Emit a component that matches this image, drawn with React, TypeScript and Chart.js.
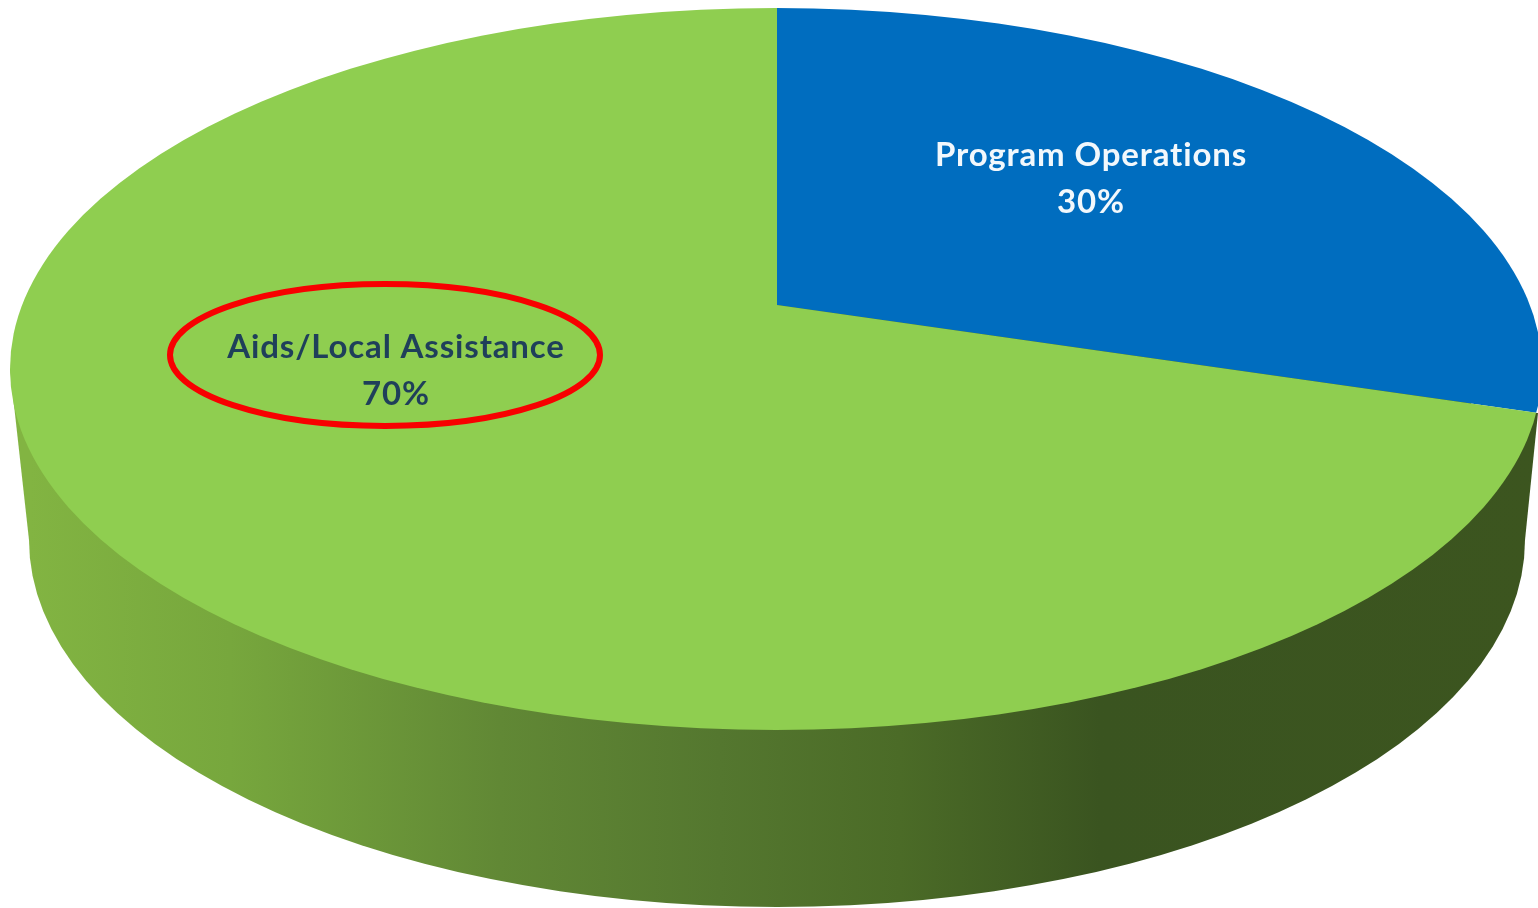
import React, { useEffect, useRef } from "react";
import { Chart, registerables } from "chart.js";

Chart.register(...registerables);

const categories = ["Program Operations", "Aids/Local Assistance"];
const values = [30, 70];
const sliceColors = ["#006dbf", "#8fce50"];
const labelColors = ["#f2f8fc", "#1f3f5a"];

const W = 1538;
const H = 908;
const top3d = { cx: 776, cy: 369, rx: 766, ry: 361 };
const bottom3d = { cx: 777, cy: 540, rx: 748, ry: 367 };
const apex = { x: 777, y: 305 };
const tilt = 0.437;
const grow = 3;
const labelBoxes = [
  { x: 1091, y1: 166, y2: 213 },
  { x: 396, y1: 358, y2: 405 },
];
const wallStops: [number, string][] = [
  [30, "#82b442"],
  [230, "#77a73d"],
  [500, "#618835"],
  [720, "#54772f"],
  [900, "#4b6b27"],
  [1100, "#3a5420"],
  [1538, "#3c551f"],
];

const pie3d = {
  id: "pie3d",
  beforeDatasetsDraw(chart: any) {
    const ctx: CanvasRenderingContext2D = chart.ctx;
    const g = ctx.createLinearGradient(0, 0, W, 0);
    wallStops.forEach(([x, c]) => g.addColorStop(x / W, c));
    ctx.save();
    ctx.fillStyle = g;
    ctx.beginPath();
    ctx.moveTo(top3d.cx - top3d.rx, top3d.cy);
    ctx.lineTo(bottom3d.cx - bottom3d.rx, bottom3d.cy);
    ctx.lineTo(bottom3d.cx + bottom3d.rx, bottom3d.cy);
    ctx.lineTo(1538, 413);
    ctx.closePath();
    ctx.fill();
    ctx.beginPath();
    ctx.ellipse(bottom3d.cx, bottom3d.cy, bottom3d.rx, bottom3d.ry, 0, 0, Math.PI * 2);
    ctx.fill();
    ctx.restore();

    const { x, y } = chart.getDatasetMeta(0).data[0];
    ctx.save();
    ctx.beginPath();
    ctx.ellipse(top3d.cx, top3d.cy, top3d.rx, top3d.ry, 0, 0, Math.PI * 2);
    ctx.clip();
    ctx.translate(apex.x, apex.y);
    ctx.scale(grow, grow * tilt);
    ctx.translate(-x, -y);
  },
  afterDatasetsDraw(chart: any) {
    const ctx: CanvasRenderingContext2D = chart.ctx;
    ctx.restore();
    ctx.save();
    ctx.strokeStyle = "#f80000";
    ctx.lineWidth = 6;
    ctx.beginPath();
    ctx.ellipse(385, 355, 215, 71, 0, 0, Math.PI * 2);
    ctx.stroke();
    ctx.font = "700 33px Lato";
    (ctx as any).letterSpacing = "0.85px";
    ctx.textAlign = "center";
    ctx.textBaseline = "alphabetic";
    categories.forEach((name, i) => {
      const b = labelBoxes[i];
      ctx.fillStyle = labelColors[i];
      ctx.fillText(name, b.x, b.y1);
      ctx.fillText(`${values[i]}%`, b.x, b.y2);
    });
    ctx.restore();
  },
};

export default function App() {
  const ref = useRef<HTMLCanvasElement>(null);
  useEffect(() => {
    document.body.style.margin = "0";
    document.body.style.background = "#fff";
    const chart = new Chart(ref.current!, {
      type: "pie",
      data: {
        labels: categories,
        datasets: [{ data: values, backgroundColor: sliceColors, borderWidth: 0 }],
      },
      options: {
        animation: false,
        responsive: false,
        events: [],
        plugins: { legend: { display: false }, tooltip: { enabled: false } },
      },
      plugins: [pie3d],
    } as any);
    return () => chart.destroy();
  }, []);
  return <canvas ref={ref} width={W} height={H} style={{ display: "block" }} />;
}
